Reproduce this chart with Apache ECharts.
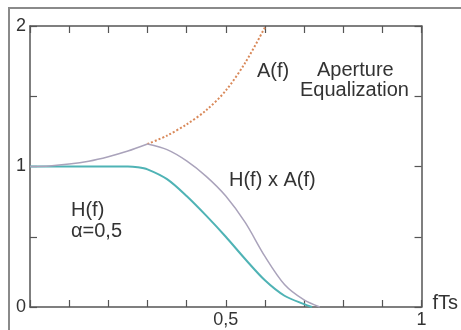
<!DOCTYPE html>
<html lang="en">
<head>
  <meta charset="UTF-8">
  <title>Aperture Equalization</title>
  <style type="text/css">
    html, body { margin: 0; padding: 0; background: #fff; }
    #chart { width: 461px; height: 330px; }
  </style>
</head>
<body>
  <div id="chart"></div>
  <script src="https://cdn.jsdelivr.net/npm/echarts@6/dist/echarts.min.js"></script>
  <script>
    // values, x = fTs
    const hf = [[0, 1], [0.1, 1], [0.2, 1], [0.25, 1], [0.275, 0.995], [0.3, 0.98], [0.35, 0.91], [0.4, 0.79],
      [0.45, 0.65], [0.5, 0.5], [0.55, 0.34], [0.6, 0.19], [0.65, 0.08], [0.7, 0.02], [0.72, 0]]
    const afSolid = [[0, 1], [0.05, 1.004], [0.1, 1.017], [0.15, 1.038], [0.2, 1.07], [0.25, 1.11], [0.3, 1.16]]
    const afDotted = [[0.3, 1.16], [0.35, 1.22], [0.4, 1.3], [0.45, 1.4], [0.5, 1.54], [0.55, 1.74], [0.6, 1.99]]
    const hxa = [[0.3, 1.16], [0.35, 1.12], [0.4, 1.04], [0.45, 0.93], [0.5, 0.79], [0.55, 0.6],
      [0.6, 0.36], [0.65, 0.16], [0.7, 0.05], [0.74, 0]]
    const xLabels = { 0.5: '0,5', 1: '1' }
    const yLabels = { 0: '0', 1: '1', 2: '2' }

    const axisColor = '#555'
    const textColor = '#333'
    const font = '"Liberation Sans", Arial, sans-serif'

    const chart = echarts.init(document.getElementById('chart'))

    const baseAxis = {
      type: 'value',
      axisLine: { show: true, onZero: false, lineStyle: { color: axisColor, width: 1.5 } },
      axisTick: { show: true, inside: true, length: 7, lineStyle: { color: axisColor, width: 1.2 } },
      splitLine: { show: false }
    }

    function note (x, y, text) {
      return {
        type: 'text', x, y,
        style: { text, fill: textColor, font: '20px ' + font, verticalAlign: 'middle' }
      }
    }

    chart.setOption({
      animation: false,
      backgroundColor: '#fff',
      grid: { left: 30, top: 26, right: 31, bottom: 23 },
      xAxis: [
        Object.assign({}, baseAxis, {
          min: 0, max: 1, interval: 0.1, position: 'bottom',
          name: 'fTs', nameLocation: 'end', nameGap: 2,
          nameTextStyle: { color: textColor, fontSize: 20, fontFamily: font, verticalAlign: 'bottom', padding: [0, 0, -6, 0] },
          axisLabel: {
            color: textColor, fontSize: 18, fontFamily: font, margin: 4,
            formatter: v => xLabels[Math.round(v * 10) / 10] || ''
          }
        }),
        Object.assign({}, baseAxis, {
          min: 0, max: 1, interval: 0.1, position: 'top', axisLabel: { show: false }
        })
      ],
      yAxis: [
        Object.assign({}, baseAxis, {
          min: 0, max: 2, interval: 0.5, position: 'left',
          axisLabel: {
            color: textColor, fontSize: 18, fontFamily: font, margin: 4,
            formatter: v => yLabels[v] || ''
          }
        }),
        Object.assign({}, baseAxis, {
          min: 0, max: 2, interval: 0.5, position: 'right', axisLabel: { show: false }
        })
      ],
      series: [
        {
          name: 'H(f)', type: 'line', data: hf, smooth: 0.3,
          showSymbol: false, lineStyle: { color: '#4fb3b5', width: 2 }
        },
        {
          name: 'A(f)', type: 'line', data: afSolid, smooth: 0.3,
          showSymbol: false, lineStyle: { color: '#aaa3bb', width: 1.5 }
        },
        {
          name: 'A(f) dotted', type: 'line', data: afDotted, smooth: 0.3,
          showSymbol: false, lineStyle: { color: '#d9895a', width: 2, type: 'dotted' }
        },
        {
          name: 'H(f) x A(f)', type: 'line', data: hxa, smooth: 0.3,
          showSymbol: false, lineStyle: { color: '#aaa3bb', width: 1.5 }
        }
      ],
      graphic: [
        {
          type: 'rect', silent: true, z: -1,
          shape: { x: 9, y: 8, width: 480, height: 340 },
          style: { fill: 'none', stroke: '#8a8a8a', lineWidth: 2 }
        },
        note(257, 71, 'A(f)'),
        note(317, 70, 'Aperture'),
        note(300, 90, 'Equalization'),
        note(229, 180, 'H(f) x A(f)'),
        note(71, 210, 'H(f)'),
        note(71, 231, 'α=0,5')
      ]
    })
  </script>
</body>
</html>
